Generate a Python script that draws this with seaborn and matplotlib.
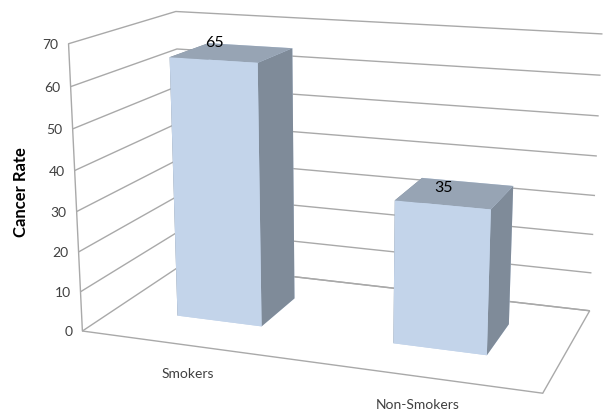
import numpy as np
import matplotlib
matplotlib.use("Agg")
import matplotlib.pyplot as plt
from mpl_toolkits.mplot3d import proj3d
import seaborn as sns

categories = ["Smokers", "Non-Smokers"]
values = [65, 35]
z_ticks = [0, 10, 20, 30, 40, 50, 60, 70]
y_label = "Cancer Rate"

sns.set_style("white")
plt.rcParams["font.family"] = ["Lato", "DejaVu Sans"]

W, H = 605, 414
fig = plt.figure(figsize=(W / 100, H / 100), dpi=100)
ax = fig.add_axes([0.0699, -0.1667, 0.9614, 1.405], projection="3d")
xmin, xmax = -0.5, len(categories) - 0.5
zmax = z_ticks[-1]
ax.set_xlim(xmin, xmax)
ax.set_ylim(0, 1)
ax.set_zlim(0, zmax)
ax.view_init(elev=14.78, azim=-70.26)
ax.set_proj_type("persp", focal_length=0.4626)
ax.set_box_aspect((1.0, 0.4946, 0.621))

grid_col = "#a9a9a9"
for axis in (ax.xaxis, ax.yaxis, ax.zaxis):
    axis.set_pane_color((1, 1, 1, 1))
    axis.line.set_color((1, 1, 1, 0))
    axis._axinfo["tick"]["inward_factor"] = 0
    axis._axinfo["tick"]["outward_factor"] = 0
ax.xaxis.pane.set_edgecolor((1, 1, 1, 0))
ax.yaxis.pane.set_edgecolor((1, 1, 1, 0))
ax.zaxis.pane.set_edgecolor(grid_col)
ax.zaxis.pane.set_linewidth(1.0)
ax.xaxis._axinfo["grid"]["color"] = (1, 1, 1, 0)
ax.yaxis._axinfo["grid"]["color"] = (1, 1, 1, 0)
ax.zaxis._axinfo["grid"]["color"] = grid_col
ax.zaxis._axinfo["grid"]["linewidth"] = 1.0
ax.set_xticks([xmin, xmax])
ax.set_yticks([])
ax.set_zticks(z_ticks)
ax.set_xticklabels([])
ax.set_zticklabels([])
ax.grid(True)

# front edge of the side wall
ax.plot([xmin, xmin], [0, 0], [0, zmax], color=grid_col, lw=1.0)

front = "#c3d4ea"
top = "#97a4b4"
side = "#7f8b99"
x = np.arange(len(categories))
bw = 0.402
depth = 0.392
y0 = 0.315
colors = []
for _ in categories:
    colors += [front, top, front, front, side, side]
ax.bar3d(x - bw / 2, np.full(len(x), y0), np.zeros(len(x)), bw, depth, values,
         color=colors, shade=False, edgecolor="none")

fig.canvas.draw()


def project(X, Y, Z):
    xs, ys, _ = proj3d.proj_transform(np.atleast_1d(np.asarray(X, float)),
                                      np.atleast_1d(np.asarray(Y, float)),
                                      np.atleast_1d(np.asarray(Z, float)), ax.get_proj())
    px = ax.transData.transform(np.c_[xs, ys])
    return px[:, 0] / W, px[:, 1] / H


tx, ty = project([xmin] * len(z_ticks), [0] * len(z_ticks), z_ticks)
for t, u, v in zip(z_ticks, tx, ty):
    fig.text(u - 10 / W, v, str(t), fontsize=10, color="#404040", ha="right", va="center")

cx, cy = project(x, [0] * len(x), [0] * len(x))
for c, u, v in zip(categories, cx, cy):
    fig.text(u, v - 27.5 / H, c, fontsize=10, color="#404040", ha="center", va="center")

vx, vy = project(x, [y0] * len(x), values)
for val, u, v in zip(values, vx, vy):
    fig.text(u + 1 / W, v + 17.5 / H, str(val), fontsize=11.5, color="black", ha="center", va="center")

fig.text(21.5 / W, 1 - 192 / H, y_label, rotation=90, fontsize=12, fontweight="bold",
         color="black", ha="center", va="center")

fig.savefig("out.png", dpi=100)
